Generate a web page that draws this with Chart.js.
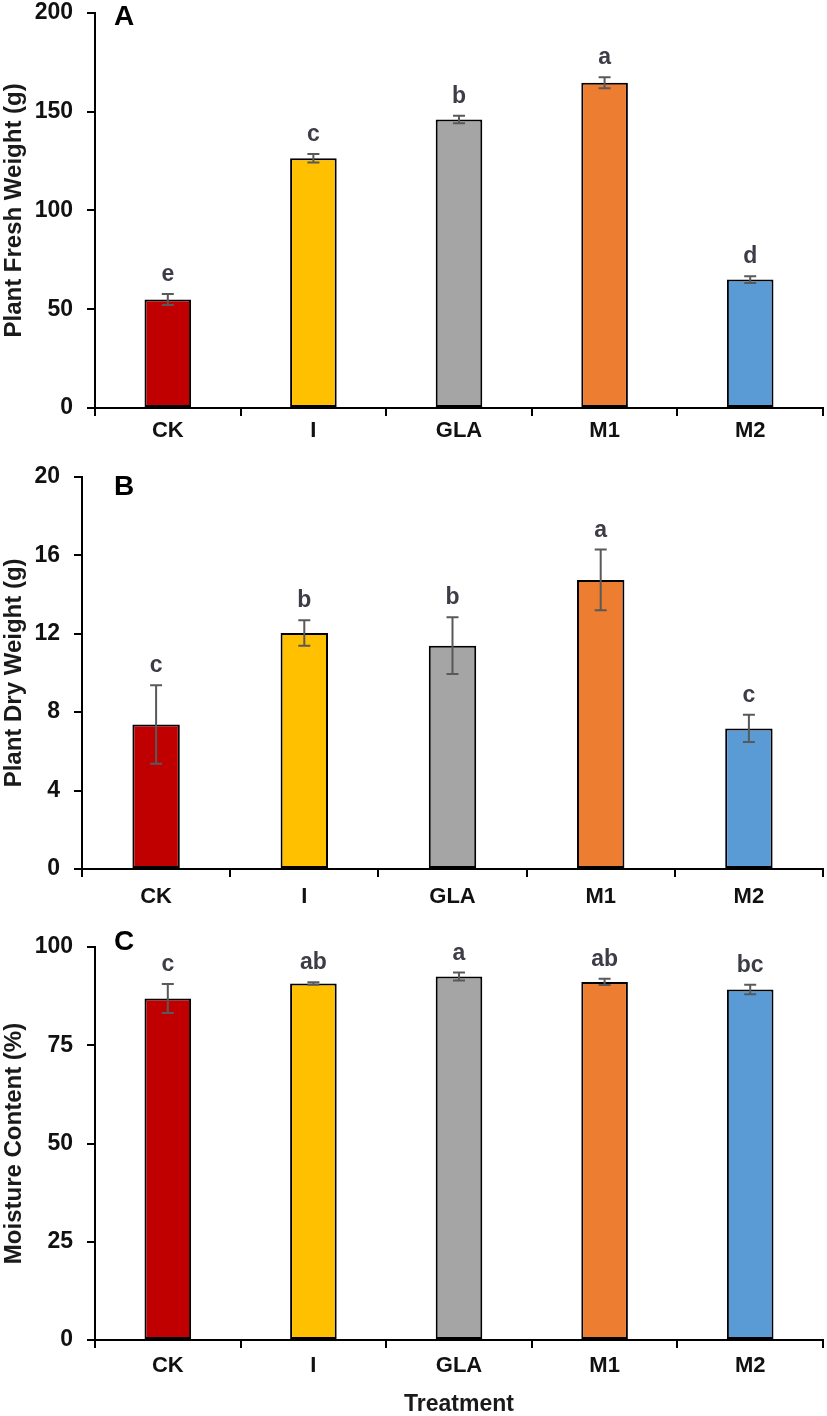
<!DOCTYPE html>
<html lang="en">
<head>
<meta charset="UTF-8">
<title>Plant weight and moisture by treatment</title>
<script src="https://cdn.jsdelivr.net/npm/chart.js@4.4.1/dist/chart.umd.min.js"></script>
<style>
  body { margin: 0; background: #fff; }
  #page { position: relative; width: 827px; height: 1416px; overflow: hidden; }
  .panel { position: absolute; left: 0; width: 827px; }
  #panelA { top: -15px; height: 470px; }
  #panelB { top: 449px; height: 466px; }
  #panelC { top: 915px; height: 501px; }
</style>
</head>
<body>
<div id="page">
  <div class="panel" id="panelA"><canvas id="chartA"></canvas></div>
  <div class="panel" id="panelB"><canvas id="chartB"></canvas></div>
  <div class="panel" id="panelC"><canvas id="chartC"></canvas></div>
</div>
<script>
const treatments = ['CK', 'I', 'GLA', 'M1', 'M2'];
const barColors = ['#C00000', '#FFC000', '#A5A5A5', '#ED7D31', '#5B9BD5'];

// A - fresh weight (g)
const freshWeight = [54.9, 126.4, 146.0, 164.6, 65.0];
const freshErr = [2.8, 2.2, 1.9, 2.8, 1.7];
const freshLetters = ['e', 'c', 'b', 'a', 'd'];
const freshTicks = [0, 50, 100, 150, 200];

// B - dry weight (g)
const dryWeight = [7.37, 12.03, 11.39, 14.74, 7.17];
const dryErr = [2.0, 0.65, 1.45, 1.55, 0.7];
const dryLetters = ['c', 'b', 'b', 'a', 'c'];
const dryTicks = [0, 4, 8, 12, 16, 20];

// C - moisture content (%)
const moisture = [86.9, 90.7, 92.5, 91.1, 89.2];
const moistureErr = [3.7, 0.3, 1.0, 0.8, 1.2];
const moistureLetters = ['c', 'ab', 'a', 'ab', 'bc'];
const moistureTicks = [0, 25, 50, 75, 100];

const FONT = '"Liberation Sans", Arial, sans-serif';
Chart.defaults.font.family = FONT;
Chart.defaults.color = '#1a1a1a';

// error bars, significance letters and the panel letter
const annotate = {
  id: 'annotate',
  afterDatasetsDraw(chart, args, opts) {
    const ctx = chart.ctx;
    const yScale = chart.scales.y;
    const bars = chart.getDatasetMeta(0).data;
    ctx.save();
    bars.forEach((bar, i) => {
      const v = opts.values[i], e = opts.errors[i];
      const yTop = yScale.getPixelForValue(v + e);
      const yBot = yScale.getPixelForValue(v - e);
      ctx.strokeStyle = '#595959';
      ctx.lineWidth = 2;
      ctx.beginPath();
      ctx.moveTo(bar.x, yTop); ctx.lineTo(bar.x, yBot);
      ctx.moveTo(bar.x - 6, yTop); ctx.lineTo(bar.x + 6, yTop);
      ctx.moveTo(bar.x - 6, yBot); ctx.lineTo(bar.x + 6, yBot);
      ctx.stroke();
      ctx.fillStyle = '#3d3d48';
      ctx.font = 'bold 23px ' + FONT;
      ctx.textAlign = 'center';
      ctx.textBaseline = 'alphabetic';
      ctx.fillText(opts.letters[i], bar.x, yTop - 13);
    });
    ctx.fillStyle = '#000';
    ctx.font = 'bold 28px ' + FONT;
    ctx.textAlign = 'center';
    ctx.textBaseline = 'middle';
    ctx.fillText(opts.panel, 124, chart.chartArea.top + opts.panelDy);
    ctx.restore();
  }
};

function makePanel(id, values, errors, letters, ticks, yTitle, cfg) {
  return new Chart(document.getElementById(id), {
    type: 'bar',
    data: {
      labels: treatments,
      datasets: [{
        data: values,
        backgroundColor: barColors,
        borderColor: '#000',
        borderWidth: 2,
        borderSkipped: false,
        categoryPercentage: 1,
        barPercentage: 0.32
      }]
    },
    options: {
      responsive: true,
      maintainAspectRatio: false,
      animation: false,
      layout: { padding: { top: cfg.padTop, right: 4, left: 0, bottom: 0 } },
      plugins: {
        legend: { display: false },
        tooltip: { enabled: false },
        annotate: { values: values, errors: errors, letters: letters, panel: cfg.panel, panelDy: cfg.panelDy }
      },
      scales: {
        x: {
          z: 1,
          grid: { offset: true, drawOnChartArea: false, drawTicks: true, tickLength: 8, color: '#000', lineWidth: 2 },
          border: { color: '#000', width: 2 },
          ticks: { font: { size: 22, weight: 'bold' }, color: '#111', padding: cfg.xPad },
          title: {
            display: !!cfg.xTitle,
            text: cfg.xTitle || '',
            font: { size: 23, weight: 'bold', lineHeight: 1 },
            color: '#1a1a1a',
            padding: { top: 0, bottom: 0 }
          },
          afterFit(s) { s.height = cfg.xHeight; }
        },
        y: {
          z: 1,
          min: ticks[0],
          max: ticks[ticks.length - 1],
          afterBuildTicks(s) { s.ticks = ticks.map(v => ({ value: v })); },
          grid: { drawOnChartArea: false, drawTicks: true, tickLength: 8, color: '#000', lineWidth: 2 },
          border: { color: '#000', width: 2 },
          ticks: { font: { size: 23, weight: 'bold' }, color: '#111', padding: 14 },
          title: {
            display: true,
            text: yTitle,
            font: { size: 24, weight: 'bold' },
            color: '#1a1a1a',
            padding: { top: 0, bottom: 0 }
          },
          afterFit(s) { s.width = cfg.yWidth; }
        }
      }
    },
    plugins: [annotate]
  });
}

makePanel('chartA', freshWeight, freshErr, freshLetters, freshTicks, 'Plant Fresh Weight (g)',
  { padTop: 0, xHeight: 47, yWidth: 95, xPad: 2, panel: 'A', panelDy: 4.5 });
makePanel('chartB', dryWeight, dryErr, dryLetters, dryTicks, 'Plant Dry Weight (g)',
  { padTop: 0, xHeight: 46, yWidth: 82, xPad: 7, panel: 'B', panelDy: 10 });
makePanel('chartC', moisture, moistureErr, moistureLetters, moistureTicks, 'Moisture Content (%)',
  { padTop: 32, xHeight: 76, yWidth: 95, xPad: 5, panel: 'C', panelDy: -4.5, xTitle: 'Treatment' });
</script>
</body>
</html>
